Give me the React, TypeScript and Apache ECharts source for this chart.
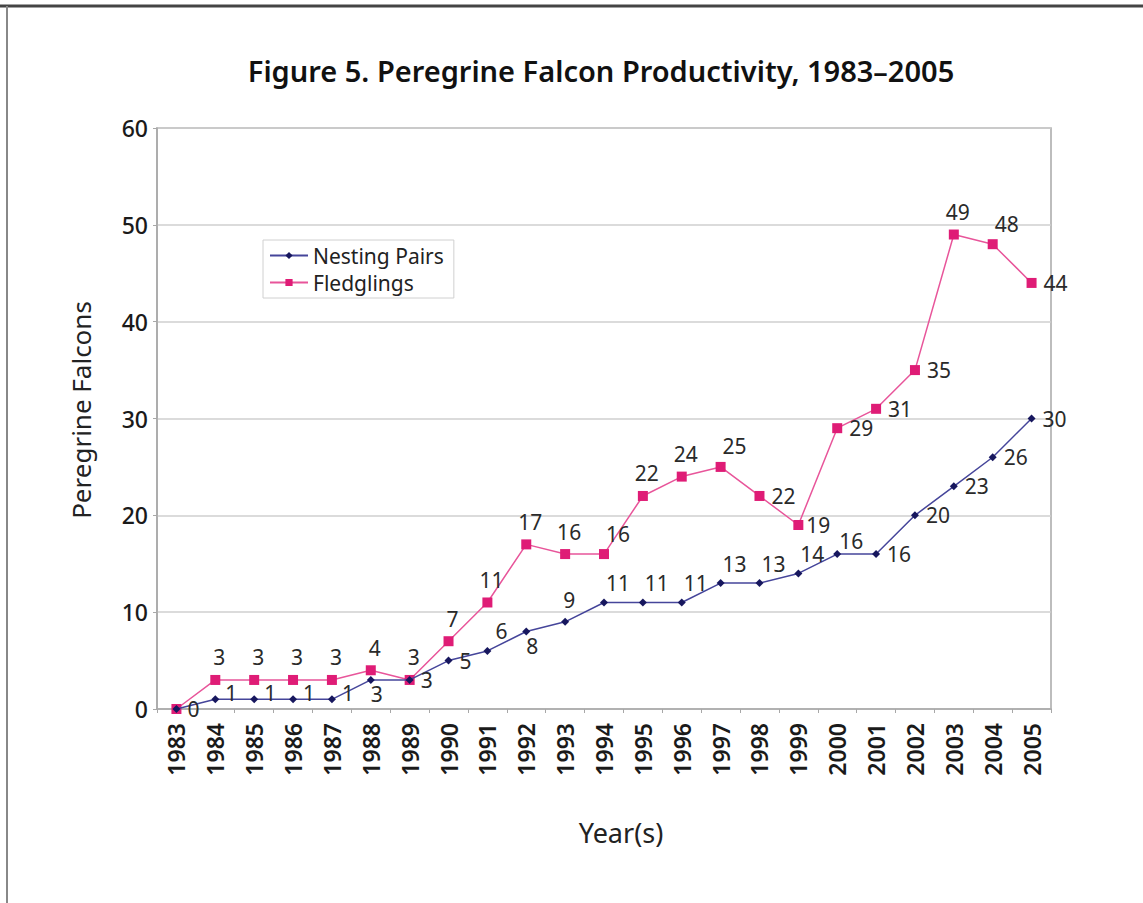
import React, { useEffect, useRef } from "react";
import * as echarts from "echarts";

const years = ["1983","1984","1985","1986","1987","1988","1989","1990","1991","1992","1993","1994","1995","1996","1997","1998","1999","2000","2001","2002","2003","2004","2005"];
const nestingPairs = [0,1,1,1,1,3,3,5,6,8,9,11,11,11,13,13,14,16,16,20,23,26,30];
const fledglings = [0,3,3,3,3,4,3,7,11,17,16,16,22,24,25,22,19,29,31,35,49,48,44];
const yTicks = [0, 10, 20, 30, 40, 50, 60];

// label placement (style only)
const nestingLabelPos = ["r","ru","ru","ru","ru","b","r","r","tr","b","t","tr","tr","tr","tr","tr","tr","t2","r","r","r","r","r"];
const fledglingLabelPos = ["none","t","t","t","t","t","t","t","t","t","t","tr","t","t","tr","r","rc","r","r","r","t","tr","r"];

function labelFor(p: string) {
  if (p === "none") return { show: false };
  if (p === "r") return { show: true, position: "right", distance: 7 };
  if (p === "rc") return { show: true, position: "right", distance: 3 };
  if (p === "ru") return { show: true, position: "right", distance: 6, offset: [0, -6] };
  if (p === "b") return { show: true, position: "bottom", distance: 0, offset: [6, 0] };
  if (p === "t") return { show: true, position: "top", distance: 7, offset: [4, 0] };
  if (p === "t2") return { show: true, position: "top", distance: 1, offset: [14, 2] };
  return { show: true, position: "top", distance: 5, offset: [14, 0] };
}

export default function App() {
  const ref = useRef<HTMLDivElement>(null);
  useEffect(() => {
    document.body.style.margin = "0";
    const chart = echarts.init(ref.current!, null, { renderer: "svg" });
    const font = "'Noto Sans', 'Open Sans', sans-serif";
    const navyLine = "#45459a";
    const navyMark = "#17175e";
    const pinkLine = "#e8559a";
    const pinkMark = "#df1c76";
    const labelStyle = { show: true, fontSize: 21, color: "#2a2a2a", fontFamily: font };
    chart.setOption({
      animation: false,
      backgroundColor: "#ffffff",
      textStyle: { fontFamily: font },
      grid: {
        left: 157, right: 92, top: 128, bottom: 194,
        show: true, borderColor: "#a8a8a8", borderWidth: 1.5, backgroundColor: "transparent",
      },
      legend: {
        orient: "vertical",
        left: 263, top: 240,
        backgroundColor: "#ffffff",
        borderColor: "#d0d0d0", borderWidth: 1,
        padding: [5, 10, 5, 6],
        itemGap: 6,
        itemWidth: 38, itemHeight: 9,
        textStyle: { fontSize: 21, color: "#222", fontFamily: font },
        data: ["Nesting Pairs", "Fledglings"],
      },
      xAxis: {
        type: "category",
        data: years,
        boundaryGap: true,
        axisLine: { show: true, lineStyle: { color: "#a8a8a8", width: 1.5 } },
        axisTick: { show: true, length: 4, inside: false, lineStyle: { color: "#a8a8a8" } },
        axisLabel: { rotate: 90, fontSize: 23, color: "#1a1a1a", fontWeight: 600, margin: 14, interval: 0, fontFamily: font },
        splitLine: { show: false },
      },
      yAxis: {
        type: "value",
        min: 0, max: 60, interval: 10,
        axisLine: { show: true, lineStyle: { color: "#a8a8a8", width: 1.5 } },
        axisTick: { show: true, length: 4, lineStyle: { color: "#a8a8a8" } },
        axisLabel: {
          fontSize: 23, color: "#1a1a1a", fontWeight: 500, margin: 9, fontFamily: font,
          formatter: (v: number) => (yTicks.includes(v) ? String(v) : ""),
        },
        splitLine: { show: true, lineStyle: { color: "#cfcfcf", width: 1.5 } },
      },
      graphic: [
        { type: "line", shape: { x1: 0, y1: 6, x2: 1143, y2: 6 }, style: { stroke: "#444", lineWidth: 3 } },
        { type: "line", shape: { x1: 7, y1: 6, x2: 7, y2: 903 }, style: { stroke: "#888", lineWidth: 2 } },
        {
          type: "text", x: 601, y: 70,
          style: { text: "Figure 5. Peregrine Falcon Productivity, 1983–2005", fontSize: 29, fontWeight: 600, fill: "#111", align: "center", verticalAlign: "middle", fontFamily: font },
        },
        {
          type: "text", x: 81, y: 410, rotation: Math.PI / 2,
          style: { text: "Peregrine Falcons", fontSize: 26, fill: "#222", align: "center", verticalAlign: "middle", fontFamily: font },
        },
        {
          type: "text", x: 621, y: 832,
          style: { text: "Year(s)", fontSize: 27, fill: "#222", align: "center", verticalAlign: "middle", fontFamily: font },
        },
      ],
      series: [
        {
          name: "Nesting Pairs",
          type: "line",
          data: nestingPairs.map((v, i) => ({ value: v, label: labelFor(nestingLabelPos[i]) })),
          symbol: "diamond",
          symbolSize: 8,
          lineStyle: { color: navyLine, width: 1.5 },
          itemStyle: { color: navyMark },
          label: labelStyle,
          z: 3,
        },
        {
          name: "Fledglings",
          type: "line",
          data: fledglings.map((v, i) => ({ value: v, label: labelFor(fledglingLabelPos[i]) })),
          symbol: "rect",
          symbolSize: 10,
          lineStyle: { color: pinkLine, width: 1.5 },
          itemStyle: { color: pinkMark },
          label: labelStyle,
          z: 2,
        },
      ],
    });
    return () => chart.dispose();
  }, []);
  return <div ref={ref} style={{ width: 1143, height: 903 }} />;
}
